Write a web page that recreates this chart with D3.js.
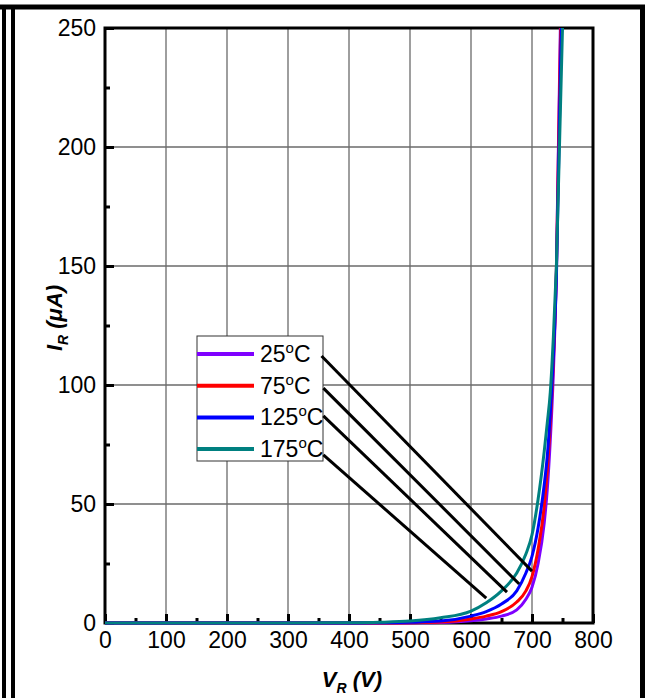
<!DOCTYPE html>
<html>
<head>
<meta charset="utf-8">
<script src="https://cdn.jsdelivr.net/npm/d3@7"></script>
<style>
  html, body { margin: 0; padding: 0; background: #fff; }
  svg { display: block; }
  text { font-family: "Liberation Sans", Arial, sans-serif; fill: #000; }
</style>
</head>
<body>
<svg id="chart" width="649" height="698"></svg>
<script>
// Reverse voltage grid (V) shared by all temperature curves
const vGrid = [0, 100, 200, 300, 400, 450, 500, 550, 600, 625, 650, 675, 690, 700, 710, 720, 725, 730, 735, 740];

// Reverse leakage current (µA) at each grid voltage
const ir25  = [0, 0, 0, 0, 0, 0, 0.05, 0.2, 0.9, 1.7, 2.9, 5.5, 10, 15, 25, 42, 56, 77, 105, 148];
const ir75  = [0, 0, 0, 0, 0, 0, 0.1, 0.4, 1.7, 2.9, 4.8, 8.8, 13.5, 19.5, 31, 49, 64, 84, 110, 148];
const ir125 = [0, 0, 0, 0, 0, 0.1, 0.3, 0.8, 2.9, 4.8, 8, 13.5, 21, 28, 40, 58, 70, 88, 112, 145];
const ir175 = [0, 0, 0, 0, 0.1, 0.3, 0.8, 2.2, 5, 8.5, 13.5, 21, 29, 37, 52, 72, 84, 97, 120, 150];

// Voltage at which each curve leaves the top of the chart (250 µA)
const vAtTop = [746.5, 747, 748, 750];
const iTop = 250;

const seriesNames = ["25", "75", "125", "175"];
const seriesColors = ["#7f00ff", "#ff0000", "#0000ff", "#008080"];
const seriesCurrents = [ir25, ir75, ir125, ir175];

// Axis ticks
const xTicks = [0, 100, 200, 300, 400, 500, 600, 700, 800];
const xMinor = [50, 150, 250, 350, 450, 550, 650, 750];
const yTicks = [0, 50, 100, 150, 200, 250];
const yMinor = [25, 75, 125, 175, 225];

// Leader lines from legend entries to curves: [V, µA] at each end
const leaderStart = [[355, 112.2], [358, 98.7], [358, 87], [358, 70.6]];
const leaderEnd   = [[700, 21.8], [679, 16.4], [659, 13], [625, 10.5]];

const svg = d3.select("#chart");

// Outer page frame
const frame = svg.append("g").attr("stroke", "#000").attr("fill", "none");
frame.append("line").attr("x1", 0).attr("x2", 645).attr("y1", 7).attr("y2", 7).attr("stroke-width", 5);
frame.append("line").attr("x1", 4).attr("x2", 4).attr("y1", 5).attr("y2", 698).attr("stroke-width", 4);
frame.append("line").attr("x1", 13).attr("x2", 13).attr("y1", 5).attr("y2", 698).attr("stroke-width", 4);
frame.append("line").attr("x1", 642.5).attr("x2", 642.5).attr("y1", 5).attr("y2", 698).attr("stroke-width", 5);

const x = d3.scaleLinear().domain([0, 800]).range([105, 593]);
const y = d3.scaleLinear().domain([0, 250]).range([623, 28]);

// Grid
const grid = svg.append("g").attr("stroke", "#6a6a6a").attr("stroke-width", 1.3);
grid.selectAll(".gx").data(xTicks.slice(1, -1)).join("line")
  .attr("x1", d => x(d)).attr("x2", d => x(d)).attr("y1", y(0)).attr("y2", y(250));
grid.selectAll(".gy").data(yTicks.slice(1, -1)).join("line")
  .attr("x1", x(0)).attr("x2", x(800)).attr("y1", d => y(d)).attr("y2", d => y(d));

// Axes with inward ticks
const xAxis = svg.append("g").attr("transform", `translate(0,${y(0)})`)
  .call(d3.axisBottom(x).tickValues(xTicks).tickSizeInner(-9).tickSizeOuter(0).tickPadding(9));
const xAxisMinor = svg.append("g").attr("transform", `translate(0,${y(0)})`)
  .call(d3.axisBottom(x).tickValues(xMinor).tickSizeInner(-5).tickSizeOuter(0).tickFormat(""));
const yAxis = svg.append("g").attr("transform", `translate(${x(0)},0)`)
  .call(d3.axisLeft(y).tickValues(yTicks).tickSizeInner(-9).tickSizeOuter(0).tickPadding(9));
const yAxisMinor = svg.append("g").attr("transform", `translate(${x(0)},0)`)
  .call(d3.axisLeft(y).tickValues(yMinor).tickSizeInner(-5).tickSizeOuter(0).tickFormat(""));

[xAxis, xAxisMinor, yAxis, yAxisMinor].forEach(a => {
  a.select(".domain").remove();
  a.selectAll(".tick line").attr("stroke", "#000").attr("stroke-width", 3);
  a.selectAll(".tick text").attr("font-size", 23).attr("fill", "#000")
    .style("font-family", '"Liberation Sans", Arial, sans-serif');
});

// Plot frame
svg.append("rect")
  .attr("x", x(0)).attr("y", y(250))
  .attr("width", x(800) - x(0)).attr("height", y(0) - y(250))
  .attr("fill", "none").attr("stroke", "#000").attr("stroke-width", 3);

// Curves
const line = d3.line().x(d => x(d[0])).y(d => y(d[1])).curve(d3.curveMonotoneX);
seriesCurrents.forEach((ir, k) => {
  const pts = vGrid.map((v, j) => [v, ir[j]]);
  pts.push([vAtTop[k], iTop]);
  svg.append("path").datum(pts)
    .attr("d", line)
    .attr("fill", "none")
    .attr("stroke", seriesColors[k])
    .attr("stroke-width", 3)
    .attr("stroke-linejoin", "round");
});

// Legend
const lg = svg.append("g");
lg.append("rect").attr("x", 197).attr("y", 336).attr("width", 126).attr("height", 125)
  .attr("fill", "#fff").attr("stroke", "#333").attr("stroke-width", 1);
seriesNames.forEach((name, k) => {
  const cy = 354 + k * 31.7;
  lg.append("line").attr("x1", 197).attr("x2", 254).attr("y1", cy).attr("y2", cy)
    .attr("stroke", seriesColors[k]).attr("stroke-width", 4);
  const t = lg.append("text").attr("x", 260).attr("y", cy + 8).attr("font-size", 23);
  t.append("tspan").text(name);
  t.append("tspan").attr("font-size", 15).attr("dy", -9).text("o");
  t.append("tspan").attr("dy", 9).text("C");
});

// Leader lines
svg.append("g").selectAll("line").data(leaderStart).join("line")
  .attr("x1", d => x(d[0])).attr("y1", d => y(d[1]))
  .attr("x2", (d, k) => x(leaderEnd[k][0])).attr("y2", (d, k) => y(leaderEnd[k][1]))
  .attr("stroke", "#000").attr("stroke-width", 3);

// Axis titles
const xt = svg.append("text").attr("x", 352).attr("y", 687)
  .attr("text-anchor", "middle").attr("font-size", 22)
  .attr("font-weight", "bold").attr("font-style", "italic");
xt.append("tspan").text("V");
xt.append("tspan").attr("font-size", 14).attr("dy", 6).text("R");
xt.append("tspan").attr("dy", -6).text(" (V)");

const yt = svg.append("text").attr("transform", "translate(62,318) rotate(-90)")
  .attr("text-anchor", "middle").attr("font-size", 22)
  .attr("font-weight", "bold").attr("font-style", "italic");
yt.append("tspan").text("I");
yt.append("tspan").attr("font-size", 14).attr("dy", 6).text("R");
yt.append("tspan").attr("dy", -6).text(" (μA)");
</script>
</body>
</html>
